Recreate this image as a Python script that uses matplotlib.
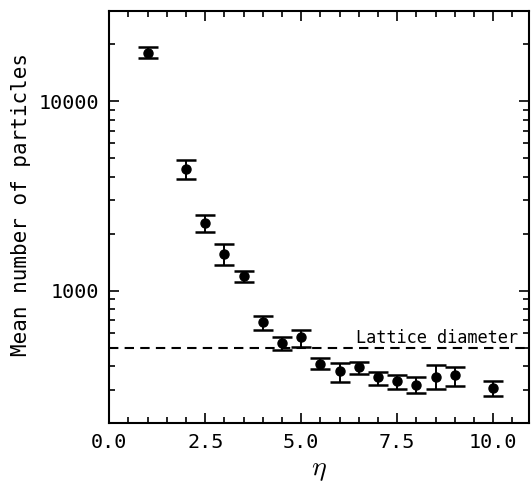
import matplotlib
matplotlib.use("Agg")
import matplotlib.pyplot as plt
from matplotlib.ticker import FixedLocator, LogLocator, NullFormatter, MultipleLocator, FormatStrFormatter

eta = [1.0, 2.0, 2.5, 3.0, 3.5, 4.0, 4.5, 5.0, 5.5, 6.0, 6.5, 7.0, 7.5, 8.0, 8.5, 9.0, 10.0]
mean_n = [18100, 4410, 2280, 1563, 1190, 680, 532, 566, 412, 378, 397, 348, 334, 318, 352, 358, 308]
upper = [19300, 4890, 2520, 1766, 1276, 738, 566, 621, 440, 414, 421, 373, 359, 348, 403, 397, 334]
lower = [16900, 3900, 2030, 1372, 1107, 620, 485, 506, 385, 331, 362, 318, 304, 288, 304, 313, 278]
lattice_diameter = 495
lattice_label = "Lattice diameter"
xtick_vals = [0.0, 2.5, 5.0, 7.5, 10.0]
ytick_vals = [1000, 10000]

font = "DejaVu Sans Mono"
plt.rcParams['font.family'] = [font]
plt.rcParams['mathtext.fontset'] = 'cm'

fig = plt.figure(figsize=(5.31, 4.83), dpi=100)
ax = fig.add_axes([0.2058, 0.1242, 0.996 - 0.2058, 0.9772 - 0.1242])

yerr = [[m - l for m, l in zip(mean_n, lower)], [u - m for m, u in zip(mean_n, upper)]]
ax.errorbar(eta, mean_n, yerr=yerr, fmt='o', color='black', markersize=6.5,
            elinewidth=1.4, capsize=7.5, capthick=1.8)

ax.axhline(lattice_diameter, color='black', linestyle=(0, (4.5, 3)), linewidth=1.5)
ax.text(0.974, 0.194, lattice_label, transform=ax.transAxes, ha='right', va='baseline',
        fontsize=12.2, family=font)

ax.set_yscale('log')
ax.set_xlim(0, 10.93)
ax.set_ylim(200, 30000)

ax.xaxis.set_major_locator(FixedLocator(xtick_vals))
ax.xaxis.set_minor_locator(MultipleLocator(0.5))
ax.xaxis.set_major_formatter(FormatStrFormatter('%.1f'))
ax.yaxis.set_major_locator(FixedLocator(ytick_vals))
ax.yaxis.set_minor_locator(LogLocator(base=10, subs=range(2, 10)))
ax.yaxis.set_minor_formatter(NullFormatter())
ax.set_yticklabels([str(v) for v in ytick_vals])

ax.tick_params(which='both', direction='in', top=True, right=True, width=1.2, labelsize=14.5)
ax.tick_params(which='major', length=7, pad=7)
ax.tick_params(which='minor', length=4.5)
for s in ax.spines.values():
    s.set_linewidth(1.5)

ax.set_xlabel(r'$\eta$', fontsize=20, labelpad=2)
ax.set_ylabel('Mean number of particles', fontsize=15)
ax.yaxis.set_label_coords(-0.186, 0.53)

fig.savefig('out.png', dpi=100)
